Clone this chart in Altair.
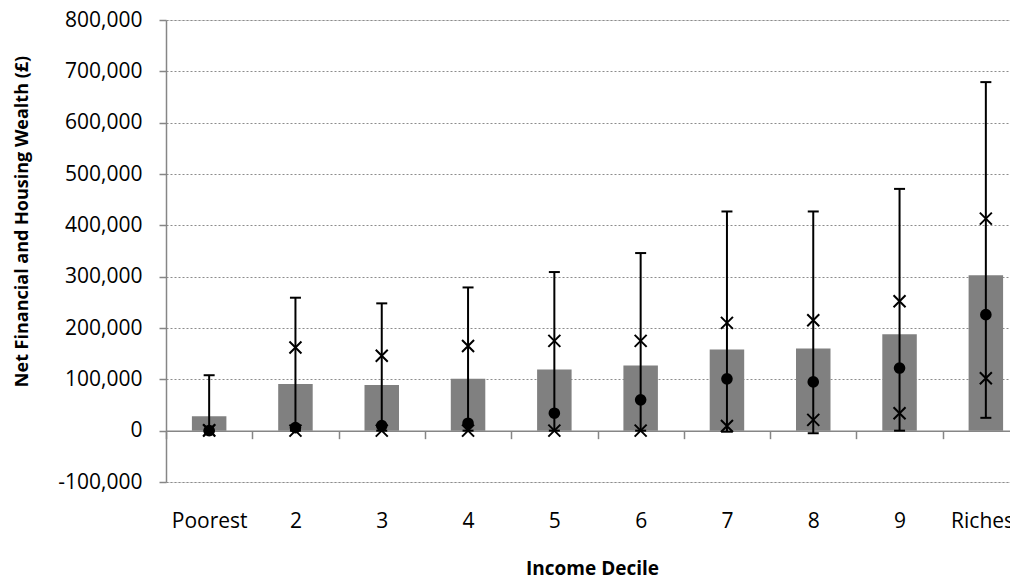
import altair as alt
import pandas as pd

deciles = ["Poorest", "2", "3", "4", "5", "6", "7", "8", "9", "Richest"]
mean_wealth = [28000, 91000, 89000, 101000, 119000, 127000, 158000, 160000, 188000, 303000]
median_wealth = [0, 6000, 10000, 14500, 34000, 60000, 101000, 95000, 122000, 226000]
p25_wealth = [0, 0, 0, 0, 0, 0, 9000, 21000, 34000, 102000]
p75_wealth = [1000, 162000, 146000, 165000, 175000, 175000, 210000, 215000, 252000, 413000]
p10_wealth = [0, 0, 0, 0, 0, 0, -2000, -5000, 0, 25000]
p90_wealth = [108000, 259000, 248000, 279000, 309000, 346000, 427000, 427000, 471000, 679000]
y_ticks = [-100000, 0, 100000, 200000, 300000, 400000, 500000, 600000, 700000, 800000]

df = pd.DataFrame({
    "decile": deciles,
    "mean": mean_wealth,
    "median": median_wealth,
    "p25": p25_wealth,
    "p75": p75_wealth,
    "p10": p10_wealth,
    "p90": p90_wealth,
})

FONT = "Open Sans"
AXIS_GRAY = "#868686"
Y_TITLE = "Net Financial and Housing Wealth (£)"

x_enc = alt.X(
    "decile:N",
    sort=deciles,
    scale=alt.Scale(paddingInner=0, paddingOuter=0, range=[0, 863]),
    axis=alt.Axis(
        title="Income Decile",
        offset=-51.33,
        domainColor=AXIS_GRAY,
        domainWidth=1.5,
        tickColor=AXIS_GRAY,
        tickWidth=1.5,
        tickSize=8,
        tickBand="extent",
        labelAngle=0,
        labelBaseline="middle",
        labelPadding=83,
        labelFontSize=21,
        labelColor="black",
        labelFont=FONT,
        titleFont=FONT,
        titleFontSize=19,
        titleFontWeight="bold",
        titleColor="black",
        titleY=137.5,
        titleX=426,
        titleBaseline="middle",
        grid=False,
    ),
)

y_axis = alt.Axis(
    title=Y_TITLE,
    values=y_ticks,
    labelExpr="replace(format(datum.value, ','), '\u2212', '-')",
    domainColor=AXIS_GRAY,
    domainWidth=1.5,
    tickColor=AXIS_GRAY,
    tickWidth=1.5,
    tickSize=7,
    labelPadding=17,
    labelFontSize=21,
    labelColor="black",
    labelFont=FONT,
    gridColor="#8c8c8c",
    gridDash=[2, 2],
    gridWidth=1,
    titleFont=FONT,
    titleFontSize=18,
    titleFontWeight="bold",
    titleColor="black",
    titleX=-144,
    titleY=201,
    titleBaseline="middle",
)
y_scale = alt.Scale(domain=[-100000, 800000], nice=False)


def yq(field):
    return alt.Y(f"{field}:Q", scale=y_scale, axis=y_axis, title=Y_TITLE)


base = alt.Chart(df)

bars = base.mark_bar(size=34.5, color="#808080").encode(x=x_enc, y=yq("mean"))
whisk = base.mark_rule(color="black", strokeWidth=2).encode(x=x_enc, y=yq("p10"), y2="p90:Q")
cap_lo = base.mark_tick(color="black", size=11, thickness=2, opacity=1).encode(x=x_enc, y=yq("p10"))
cap_hi = base.mark_tick(color="black", size=11, thickness=2, opacity=1).encode(x=x_enc, y=yq("p90"))
crosses = (
    base.transform_fold(["p25", "p75"], as_=["pct", "val"])
    .mark_point(shape="M-1,-1L1,1M1,-1L-1,1", size=144, filled=False, strokeWidth=2,
                color="black", opacity=1)
    .encode(x=x_enc, y=yq("val"))
)
dots = base.mark_point(shape="circle", filled=True, size=135, color="black", opacity=1).encode(
    x=x_enc, y=yq("median")
)

chart = (
    alt.layer(bars, whisk, cap_lo, cap_hi, crosses, dots)
    .properties(
        width=844,
        height=462,
        autosize=alt.AutoSizeParams(type="none"),
        padding={"left": 158, "top": 12, "right": 0, "bottom": 98},
    )
    .configure_view(stroke=None)
    .configure(background="white")
)

chart.save("out.html", embed_options={"renderer": "svg", "actions": False})
